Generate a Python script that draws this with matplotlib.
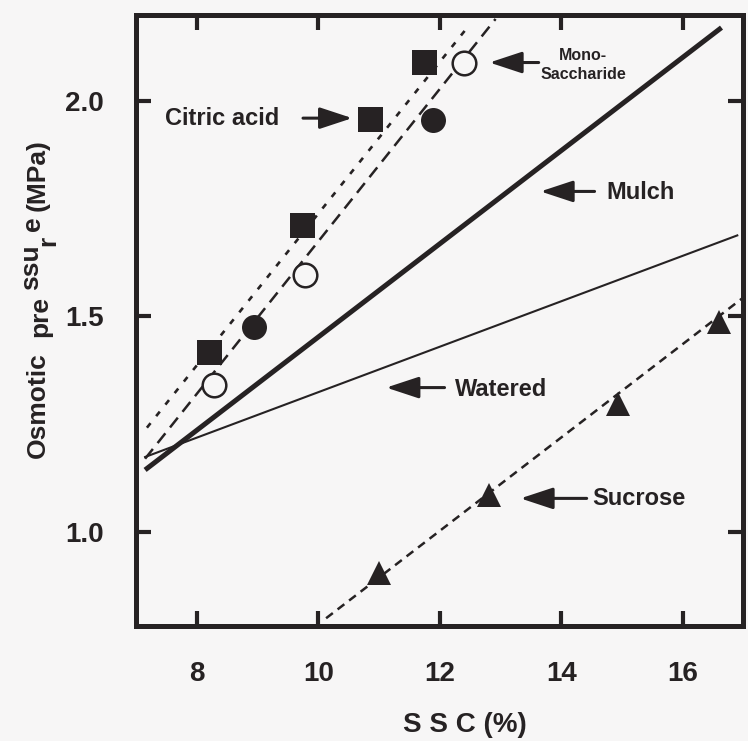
import matplotlib
matplotlib.use("Agg")
import matplotlib.pyplot as plt

plt.rcParams["font.family"] = ["Liberation Sans", "DejaVu Sans"]
plt.rcParams["font.weight"] = "bold"
plt.rcParams["axes.labelweight"] = "bold"

ink = "#262223"
paper = "#f7f6f6"

# SSC (%) vs osmotic pressure (MPa) for each treatment
citric_ssc = [8.21, 9.74, 10.86, 11.74]
citric_op = [1.417, 1.711, 1.958, 2.090]
circle_ssc = [8.95, 11.89]
circle_op = [1.475, 1.955]
mono_ssc = [8.28, 9.78, 12.40]
mono_op = [1.340, 1.597, 2.089]
sucrose_ssc = [11.0, 12.82, 14.94, 16.6]
sucrose_op = [0.905, 1.087, 1.298, 1.487]

# fitted lines, end points
mulch_x = [7.15, 16.64]
mulch_y = [1.144, 2.170]
watered_x = [7.15, 16.9]
watered_y = [1.174, 1.688]
citric_fit_x = [7.18, 12.46]
citric_fit_y = [1.242, 2.171]
mono_fit_x = [7.15, 12.92]
mono_fit_y = [1.170, 2.190]
sucrose_fit_x = [10.13, 17.0]
sucrose_fit_y = [0.800, 1.544]

x_ticks = [8, 10, 12, 14, 16]
y_ticks = [1.0, 1.5, 2.0]

fig = plt.figure(figsize=(7.48, 7.41), dpi=100, facecolor=paper)
ax = fig.add_axes([0.1818, 0.1552, 0.812, 0.825])
ax.set_facecolor(paper)

# lines
ax.plot(mulch_x, mulch_y, color=ink, lw=3.6, solid_capstyle="butt")
ax.plot(watered_x, watered_y, color=ink, lw=1.5)
ax.plot(citric_fit_x, citric_fit_y, color=ink, lw=1.9, dashes=(2.2, 3.4))
ax.plot(mono_fit_x, mono_fit_y, color=ink, lw=1.8, dashes=(5.0, 3.0))
ax.plot(sucrose_fit_x, sucrose_fit_y, color=ink, lw=1.8, dashes=(3.4, 2.4))

# points
ax.plot(citric_ssc, citric_op, "s", color=ink, ms=18, mew=0)
ax.plot(circle_ssc, circle_op, "o", color=ink, ms=18, mew=0)
ax.plot(mono_ssc, mono_op, "o", mfc=paper, mec=ink, ms=17, mew=1.8)
ax.plot(sucrose_ssc, sucrose_op, "^", color=ink, ms=17, mew=0)

# labels with arrows
arrow = dict(arrowstyle="-|>,head_length=1.0,head_width=0.33", lw=2.2,
             color=ink, mutation_scale=20, shrinkA=0, shrinkB=0)
ax.text(8.42, 1.96, "Citric acid", ha="center", va="center", fontsize=17, color=ink)
ax.annotate("", xy=(10.56, 1.96), xytext=(9.75, 1.96), arrowprops=arrow)
ax.text(14.36, 2.083, "Mono-\nSaccharide", ha="center", va="center",
        fontsize=11.5, color=ink, linespacing=1.3)
ax.annotate("", xy=(12.82, 2.089), xytext=(13.63, 2.089), arrowprops=arrow)
ax.text(14.74, 1.787, "Mulch", ha="left", va="center", fontsize=17, color=ink)
ax.annotate("", xy=(13.66, 1.79), xytext=(14.55, 1.79), arrowprops=arrow)
ax.text(12.25, 1.33, "Watered", ha="left", va="center", fontsize=17, color=ink)
ax.annotate("", xy=(11.12, 1.335), xytext=(12.08, 1.335), arrowprops=arrow)
ax.text(14.52, 1.078, "Sucrose", ha="left", va="center", fontsize=17, color=ink)
ax.annotate("", xy=(13.33, 1.078), xytext=(14.42, 1.078), arrowprops=arrow)

ax.set_xlim(7, 17)
ax.set_ylim(0.782, 2.2)
ax.set_xticks(x_ticks)
ax.set_yticks(y_ticks)
ax.set_xticklabels([str(t) for t in x_ticks])
ax.set_yticklabels([f"{t:.1f}" for t in y_ticks])
ax.tick_params(direction="in", length=11, width=3, color=ink, labelcolor=ink,
               labelsize=20, top=True, right=True)
ax.tick_params(axis="x", pad=25)
ax.tick_params(axis="y", pad=23)
for sp in ax.spines.values():
    sp.set_linewidth(3.6)
    sp.set_color(ink)

ax.set_xlabel("S S C (%)", fontsize=20, color=ink, fontweight="bold")
ax.xaxis.set_label_coords(0.541, -0.14)

# y label, typeset piece by piece
W, H = 748, 741
pieces = [("Osmotic", 45, 458), ("pre", 47, 337), ("ssu", 38, 290),
          ("r", 55, 246), ("e", 40, 231), ("(MPa)", 45, 211)]
for txt, px, py in pieces:
    fig.text(px / W, 1 - py / H, txt, rotation=90, rotation_mode="anchor",
             ha="left", va="baseline", fontsize=19, color=ink)

fig.savefig("out.png", dpi=100, facecolor=fig.get_facecolor())
